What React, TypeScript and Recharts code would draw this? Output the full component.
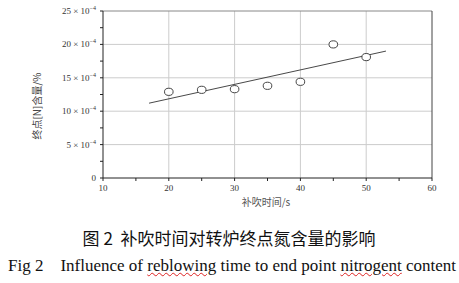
import React from 'react';
import { ComposedChart, Scatter, Line, XAxis, YAxis, ReferenceLine } from 'recharts';

// reblowing time (s) vs end-point N content (×10^-4 %)
const blowTimes = [20, 25, 30, 35, 40, 45, 50];
const nContent = [12.9, 13.2, 13.3, 13.8, 14.4, 20.0, 18.1];
const trendTimes = [17, 53];
const trendValues = [11.2, 19.0];
const xTicks = [10, 15, 20, 25, 30, 35, 40, 45, 50, 55, 60];
const yTicks = [0, 2.5, 5, 7.5, 10, 12.5, 15, 17.5, 20, 22.5, 25];
const xGrid = [20, 30, 40, 50];
const yGrid = [5, 10, 15, 20];

const points = blowTimes.map((t, i) => ({ t, n: nContent[i] }));
const trend = trendTimes.map((t, i) => ({ t, n: trendValues[i] }));

const serif = '"Liberation Serif", "DejaVu Serif", serif';

function YTick(props: any) {
  const { x, y, payload } = props;
  const v = payload.value;
  if (v % 5 !== 0) return null;
  if (v === 0) {
    return (
      <text x={x - 2} y={y + 3} textAnchor="end" fontSize={9} fill="#333" fontFamily={serif}>
        0
      </text>
    );
  }
  return (
    <text x={x - 2} y={y + 3} textAnchor="end" fontSize={9} fill="#333" fontFamily={serif}>
      {`${v} × 10`}
      <tspan fontSize={6} dy={-4}>−4</tspan>
    </text>
  );
}

function XTick(props: any) {
  const { x, y, payload } = props;
  if (payload.value % 10 !== 0) return null;
  return (
    <text x={x} y={y + 8} textAnchor="middle" fontSize={9} fill="#333" fontFamily={serif}>
      {payload.value}
    </text>
  );
}

function Ring(props: any) {
  const { cx, cy } = props;
  return <ellipse cx={cx} cy={cy} rx={4.3} ry={3.6} fill="#fff" stroke="#444" strokeWidth={1} />;
}

export default function App() {
  return (
    <div style={{ position: 'absolute', left: 0, top: 0, width: 459, height: 283, background: '#fff' }}>
      <ComposedChart width={459} height={200} margin={{ top: 11, right: 27, bottom: 2, left: 0 }}>
        {xGrid.map((v) => (
          <ReferenceLine key={`gx${v}`} x={v} stroke="#ccc" strokeWidth={1} />
        ))}
        {yGrid.map((v) => (
          <ReferenceLine key={`gy${v}`} y={v} stroke="#ccc" strokeWidth={1} />
        ))}
        <ReferenceLine y={25} stroke="#888" strokeWidth={1} />
        <ReferenceLine x={60} stroke="#444" strokeWidth={1} />
        <XAxis
          type="number"
          dataKey="t"
          domain={[10, 60]}
          ticks={xTicks}
          interval={0}
          height={20}
          stroke="#222"
          tickSize={3}
          tick={<XTick />}
        />
        <YAxis
          type="number"
          dataKey="n"
          domain={[0, 25]}
          ticks={yTicks}
          interval={0}
          width={103}
          stroke="#222"
          tickSize={3}
          tick={<YTick />}
        />
        <Line
          data={trend}
          dataKey="n"
          stroke="#333"
          strokeWidth={0.9}
          dot={false}
          isAnimationActive={false}
        />
        <Scatter data={points} dataKey="n" shape={<Ring />} isAnimationActive={false} />
      </ComposedChart>
      <div
        style={{
          position: 'absolute',
          left: 36,
          top: 106,
          transform: 'translate(-50%, -50%) rotate(-90deg)',
          fontFamily: '"Noto Sans CJK SC", sans-serif',
          fontSize: 10,
          color: '#444',
          whiteSpace: 'nowrap',
        }}
      >
        终点[N]含量/%
      </div>
      <div
        style={{
          position: 'absolute',
          left: 266,
          top: 201,
          transform: 'translate(-50%, -50%)',
          fontFamily: '"Noto Sans CJK SC", sans-serif',
          fontSize: 10,
          color: '#555',
          whiteSpace: 'nowrap',
        }}
      >
        补吹时间/s
      </div>
      <div
        style={{
          position: 'absolute',
          left: 229,
          top: 237,
          transform: 'translate(-50%, -50%)',
          fontFamily: '"Noto Sans CJK SC", sans-serif',
          fontSize: 17,
          color: '#111',
          whiteSpace: 'nowrap',
        }}
      >
        图 2&nbsp; 补吹时间对转炉终点氮含量的影响
      </div>
      <div
        style={{
          position: 'absolute',
          left: 8,
          top: 256,
          fontFamily: serif,
          fontSize: 17,
          color: '#111',
          whiteSpace: 'pre',
          lineHeight: '20px',
        }}
      >
        {'Fig 2    Influence of '}
        <span style={{ textDecoration: 'underline wavy #d22', textDecorationThickness: 1 }}>reblowing</span>
        {' time to end point '}
        <span style={{ textDecoration: 'underline wavy #d22', textDecorationThickness: 1 }}>nitrogent</span>
        {' content'}
      </div>
    </div>
  );
}
